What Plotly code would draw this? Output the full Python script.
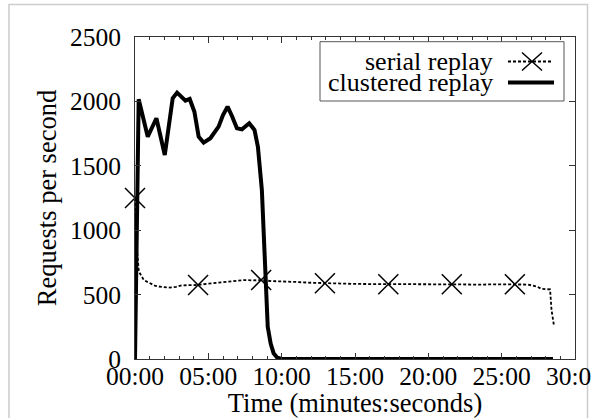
import plotly.graph_objects as go

# ---- data (time in minutes, requests per second) ----
serial_t = [0, 0.1, 0.26, 0.6, 1.0, 1.4, 1.9, 2.3, 2.8, 3.2, 3.7, 4.3, 5.0, 5.6, 6.16,
            6.8, 7.5, 8.0, 8.6, 9.3, 10.0, 11.0, 12.0, 12.95, 14.0, 15.0, 16.0, 17.27,
            18.5, 19.5, 20.5, 21.6, 22.5, 23.5, 24.5, 25.9, 26.8, 27.1, 27.4, 27.7,
            28.0, 28.3, 28.4, 28.56]
serial_v = [1250, 900, 680, 613, 590, 567, 558, 554, 560, 572, 573, 575, 585, 592, 600,
            605, 613, 610, 613, 605, 600, 598, 592, 588, 585, 583, 582, 580,
            580, 578, 580, 580, 578, 577, 580, 580, 578, 570, 562, 545,
            542, 540, 380, 264]
serial_marker_idx = [0, 11, 18, 23, 27, 31, 35]

clustered_t = [0, 0.25, 0.87, 1.46, 2.03, 2.57, 2.87, 3.44, 3.73, 4.05, 4.34, 4.68, 5.14,
               5.70, 6.0, 6.31, 6.61, 6.95, 7.29, 7.79, 8.15, 8.38, 8.65, 8.8, 9.05,
               9.25, 9.45, 9.7, 10.0, 28.5]
clustered_v = [0, 2016, 1726, 1869, 1584, 2024, 2068, 2006, 2019, 1920, 1726, 1680, 1714,
               1804, 1894, 1959, 1887, 1791, 1783, 1830, 1778, 1648, 1312, 950, 250,
               120, 45, 10, 0, 0]

x_tickvals = [0, 5, 10, 15, 20, 25, 30]
x_ticktext = ["00:00", "05:00", "10:00", "15:00", "20:00", "25:00", "30:00"]
y_tickvals = [0, 500, 1000, 1500, 2000, 2500]

names = ["serial replay", "clustered replay"]

FONT = "Liberation Serif, Times New Roman, serif"
W, H = 591, 418
ML, MR, MT, MB = 135, 16, 37, 59
PW, PH = W - ML - MR, H - MT - MB


def px(x):
    return (x - ML) / PW


def py(y):
    return (H - MB - y) / PH


fig = go.Figure()
fig.add_trace(go.Scatter(
    x=serial_t, y=serial_v, mode="lines", name=names[0], showlegend=False,
    line=dict(color="black", width=1.8, dash="3px,2px"),
))
fig.add_trace(go.Scatter(
    x=[serial_t[i] for i in serial_marker_idx],
    y=[serial_v[i] for i in serial_marker_idx],
    mode="markers", name=names[0], showlegend=False, cliponaxis=False,
    marker=dict(symbol="x-thin", size=20, line=dict(color="black", width=1.5)),
))
fig.add_trace(go.Scatter(
    x=clustered_t, y=clustered_v, mode="lines", name=names[1], showlegend=False,
    line=dict(color="black", width=4),
))

shapes = []
annotations = []
# image frame
shapes.append(dict(type="rect", xref="paper", yref="paper",
                   x0=px(9), x1=px(587.5), y0=py(440), y1=py(4.5),
                   line=dict(color="#cccccc", width=1.5), layer="below"))
# legend box
shapes.append(dict(type="rect", xref="paper", yref="paper",
                   x0=px(320), x1=px(564), y0=py(101), y1=py(41.7),
                   line=dict(color="#555555", width=1), fillcolor="white"))
row_y = [61.5, 82.5]
# legend samples
shapes.append(dict(type="line", xref="paper", yref="paper",
                   x0=px(508), x1=px(553), y0=py(row_y[0]), y1=py(row_y[0]),
                   line=dict(color="black", width=1.8, dash="3px,2px")))
cx, cy, hw, hh = 532, row_y[0], 10, 9
shapes.append(dict(type="path", xref="paper", yref="paper",
                   path=f"M{px(cx-hw)},{py(cy-hh)} L{px(cx+hw)},{py(cy+hh)} "
                        f"M{px(cx-hw)},{py(cy+hh)} L{px(cx+hw)},{py(cy-hh)}",
                   line=dict(color="black", width=1.5)))
shapes.append(dict(type="line", xref="paper", yref="paper",
                   x0=px(508), x1=px(554), y0=py(row_y[1]), y1=py(row_y[1]),
                   line=dict(color="black", width=4)))
for name, ry in zip(names, row_y):
    annotations.append(dict(text=name, xref="paper", yref="paper", x=px(495), y=py(ry),
                            xanchor="right", yanchor="middle", showarrow=False,
                            font=dict(family=FONT, size=26, color="black")))

axis_common = dict(
    showline=True, linecolor="#333333", linewidth=1, mirror="allticks",
    ticks="inside", ticklen=6, tickwidth=1, tickcolor="#333333",
    showgrid=False, zeroline=False, automargin=False, ticklabeloverflow="allow",
    tickfont=dict(family=FONT, size=25.5, color="black"),
)

fig.update_layout(
    width=W, height=H, margin=dict(l=ML, r=MR, t=MT, b=MB),
    paper_bgcolor="white", plot_bgcolor="white",
    shapes=shapes, annotations=annotations, showlegend=False,
    xaxis=dict(range=[0, 30], tickvals=x_tickvals, ticktext=x_ticktext,
               ticklabelstandoff=-6,
               minor=dict(dtick=1, ticks="inside", ticklen=3, tickcolor="#333333"),
               title=dict(text="Time (minutes:seconds)", standoff=0,
                          font=dict(family=FONT, size=26.5, color="black")),
               **axis_common),
    yaxis=dict(range=[0, 2500], tickvals=y_tickvals, ticklabelstandoff=8,
               title=dict(text="Requests per second", standoff=5,
                          font=dict(family=FONT, size=26.5, color="black")),
               **axis_common),
)

fig.write_html("out.html", config={"displayModeBar": False},
               post_script="document.body.style.margin='0';document.body.style.overflow='hidden';")
